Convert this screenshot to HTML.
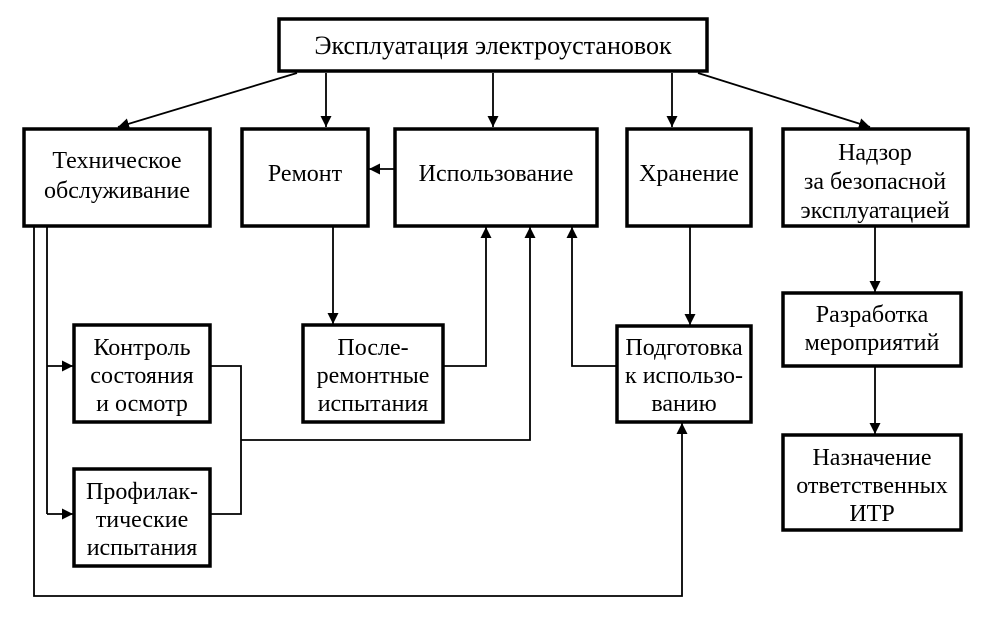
<!DOCTYPE html>
<html><head><meta charset="utf-8"><style>
html,body{margin:0;padding:0;background:#fff;}
svg{display:block}
text{font-family:"Liberation Serif","DejaVu Serif",serif;font-size:24px;fill:#000;text-anchor:middle}
</style></head><body>
<svg width="988" height="620" viewBox="0 0 988 620" xmlns="http://www.w3.org/2000/svg">
<defs>
<marker id="a" viewBox="0 0 10 10" refX="10" refY="5" markerWidth="11" markerHeight="11" markerUnits="userSpaceOnUse" orient="auto">
<path d="M0,0 L10,5 L0,10 z" fill="#000"/></marker>
</defs>
<g fill="#fff" stroke="#000" stroke-width="3.5">
<rect x="279" y="19" width="428" height="52"/>
<rect x="24" y="129" width="186" height="97"/>
<rect x="242" y="129" width="126" height="97"/>
<rect x="395" y="129" width="202" height="97"/>
<rect x="627" y="129" width="124" height="97"/>
<rect x="783" y="129" width="185" height="97"/>
<rect x="74" y="325" width="136" height="97"/>
<rect x="74" y="469" width="136" height="97"/>
<rect x="303" y="325" width="140" height="97"/>
<rect x="617" y="326" width="134" height="96"/>
<rect x="783" y="293" width="178" height="73"/>
<rect x="783" y="435" width="178" height="95"/>
</g>
<g stroke="#000" stroke-width="1.8" fill="none">
<line x1="297" y1="73" x2="118" y2="127" marker-end="url(#a)"/>
<line x1="326" y1="73" x2="326" y2="127" marker-end="url(#a)"/>
<line x1="493" y1="73" x2="493" y2="127" marker-end="url(#a)"/>
<line x1="672" y1="73" x2="672" y2="127" marker-end="url(#a)"/>
<line x1="698" y1="73" x2="870" y2="127" marker-end="url(#a)"/>
<line x1="394" y1="169" x2="369" y2="169" marker-end="url(#a)"/>
<polyline points="34,227 34,596 682,596 682,423" marker-end="url(#a)"/>
<line x1="47" y1="227" x2="47" y2="514"/>
<line x1="47" y1="366" x2="73" y2="366" marker-end="url(#a)"/>
<line x1="47" y1="514" x2="73" y2="514" marker-end="url(#a)"/>
<polyline points="211,366 241,366 241,514 211,514"/>
<polyline points="241,440 530,440 530,227" marker-end="url(#a)"/>
<line x1="333" y1="227" x2="333" y2="324" marker-end="url(#a)"/>
<polyline points="444,366 486,366 486,227" marker-end="url(#a)"/>
<polyline points="616,366 572,366 572,227" marker-end="url(#a)"/>
<line x1="690" y1="227" x2="690" y2="325" marker-end="url(#a)"/>
<line x1="875" y1="227" x2="875" y2="292" marker-end="url(#a)"/>
<line x1="875" y1="367" x2="875" y2="434" marker-end="url(#a)"/>
</g>
<text x="493" y="54" style="font-size:26px">Эксплуатация электроустановок</text>
<text x="117" y="168">Техническое</text>
<text x="117" y="198">обслуживание</text>
<text x="305" y="181">Ремонт</text>
<text x="496" y="181">Использование</text>
<text x="689" y="181">Хранение</text>
<text x="875" y="160">Надзор</text>
<text x="875" y="189">за безопасной</text>
<text x="875" y="218">эксплуатацией</text>
<text x="142" y="355">Контроль</text>
<text x="142" y="383">состояния</text>
<text x="142" y="411">и осмотр</text>
<text x="142" y="499">Профилак-</text>
<text x="142" y="527">тические</text>
<text x="142" y="555">испытания</text>
<text x="373" y="355">После-</text>
<text x="373" y="383">ремонтные</text>
<text x="373" y="411">испытания</text>
<text x="684" y="355">Подготовка</text>
<text x="684" y="383">к использо-</text>
<text x="684" y="411">ванию</text>
<text x="872" y="322">Разработка</text>
<text x="872" y="350">мероприятий</text>
<text x="872" y="465">Назначение</text>
<text x="872" y="493">ответственных</text>
<text x="872" y="521">ИТР</text>
</svg>
</body></html>
